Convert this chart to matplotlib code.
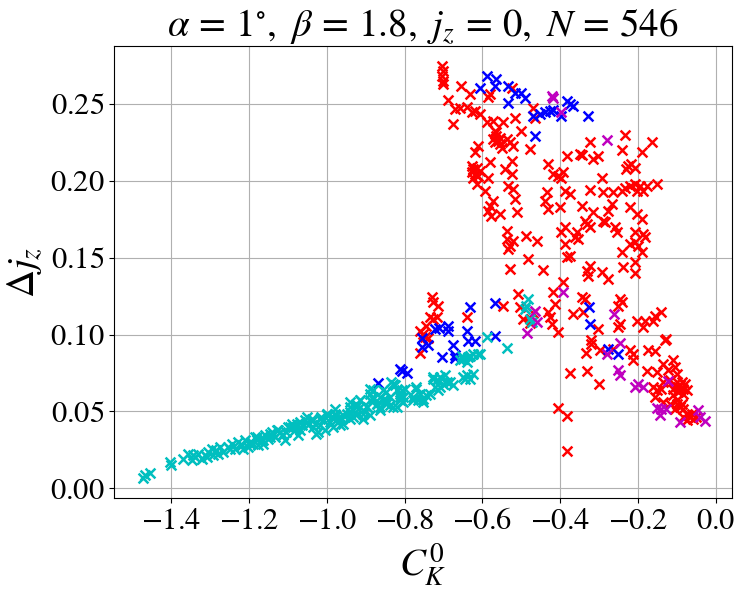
import numpy as np
import matplotlib
matplotlib.use("Agg")
import matplotlib.pyplot as plt
from matplotlib.ticker import FuncFormatter

plt.rcParams['mathtext.fontset'] = 'stix'
plt.rcParams['font.family'] = 'STIXGeneral'

# Points, grouped by colour
red_pts = [
    (-0.705, 0.2747), (-0.702, 0.2714), (-0.705, 0.2682), (-0.701, 0.2649), (-0.702, 0.2628),
    (-0.654, 0.2617), (-0.632, 0.2563), (-0.688, 0.2524), (-0.671, 0.2465), (-0.658, 0.2472),
    (-0.641, 0.2480), (-0.628, 0.2444), (-0.620, 0.2454), (-0.607, 0.2433), (-0.675, 0.2372),
    (-0.581, 0.2563), (-0.585, 0.2545), (-0.525, 0.2606), (-0.589, 0.2379), (-0.572, 0.2389),
    (-0.547, 0.2385), (-0.517, 0.2411), (-0.568, 0.2324), (-0.564, 0.2292), (-0.572, 0.2270),
    (-0.559, 0.2259), (-0.555, 0.2238), (-0.551, 0.2216), (-0.538, 0.2270), (-0.529, 0.2249),
    (-0.521, 0.2227), (-0.500, 0.2324), (-0.478, 0.2205), (-0.611, 0.2227), (-0.620, 0.2184),
    (-0.581, 0.2119), (-0.542, 0.2075), (-0.525, 0.2130), (-0.525, 0.2043), (-0.615, 0.2086),
    (-0.607, 0.2065), (-0.620, 0.2043), (-0.624, 0.2021), (-0.628, 0.2054), (-0.585, 0.2021),
    (-0.615, 0.1978), (-0.534, 0.1967), (-0.521, 0.1946), (-0.435, 0.1924), (-0.388, 0.1935),
    (-0.431, 0.2108), (-0.418, 0.2043), (-0.405, 0.2032), (-0.392, 0.2054), (-0.397, 0.2021),
    (-0.384, 0.2162), (-0.465, 0.2411), (-0.469, 0.2476), (-0.594, 0.1935), (-0.564, 0.2314),
    (-0.555, 0.2281), (-0.568, 0.2249), (-0.628, 0.2097), (-0.611, 0.2032), (-0.624, 0.2075),
    (-0.324, 0.2255), (-0.234, 0.2298), (-0.163, 0.2255), (-0.242, 0.2199), (-0.191, 0.2190),
    (-0.350, 0.2173), (-0.345, 0.2168), (-0.315, 0.2140), (-0.302, 0.2162), (-0.230, 0.2075),
    (-0.217, 0.2108), (-0.208, 0.2086), (-0.225, 0.2097), (-0.294, 0.2021), (-0.324, 0.1939),
    (-0.290, 0.1930), (-0.264, 0.1924), (-0.234, 0.1956), (-0.221, 0.1967), (-0.208, 0.1978),
    (-0.195, 0.1967), (-0.178, 0.1967), (-0.152, 0.1978), (-0.204, 0.1935), (-0.187, 0.1935),
    (-0.375, 0.1913), (-0.242, 0.1935),
    (-0.572, 0.1870), (-0.581, 0.1838), (-0.585, 0.1805), (-0.577, 0.1773), (-0.555, 0.1783),
    (-0.517, 0.1881), (-0.512, 0.1794), (-0.440, 0.1870), (-0.431, 0.1816), (-0.401, 0.1827),
    (-0.538, 0.1675), (-0.487, 0.1643), (-0.461, 0.1610), (-0.538, 0.1621), (-0.521, 0.1610),
    (-0.529, 0.1578), (-0.534, 0.1556), (-0.482, 0.1491), (-0.529, 0.1426), (-0.444, 0.1420),
    (-0.397, 0.1664), (-0.388, 0.1697), (-0.388, 0.1589), (-0.384, 0.1502), (-0.392, 0.1340),
    (-0.418, 0.1275), (-0.508, 0.1264), (-0.547, 0.1188), (-0.504, 0.1177), (-0.414, 0.1199),
    (-0.431, 0.1145), (-0.427, 0.1112), (-0.422, 0.1069), (-0.495, 0.1102), (-0.731, 0.1242),
    (-0.727, 0.1210), (-0.714, 0.1188), (-0.641, 0.1117), (-0.735, 0.1112), (-0.727, 0.1102),
    (-0.718, 0.1117), (-0.744, 0.1058), (-0.761, 0.1026), (-0.405, 0.1015),
    (-0.345, 0.1838), (-0.315, 0.1794), (-0.277, 0.1805), (-0.268, 0.1848), (-0.221, 0.1827),
    (-0.204, 0.1783), (-0.191, 0.1751), (-0.337, 0.1740), (-0.332, 0.1719), (-0.290, 0.1740),
    (-0.285, 0.1729), (-0.324, 0.1697), (-0.260, 0.1697), (-0.255, 0.1664), (-0.358, 0.1664),
    (-0.362, 0.1632), (-0.354, 0.1621), (-0.208, 0.1664), (-0.187, 0.1654), (-0.182, 0.1632),
    (-0.221, 0.1589), (-0.208, 0.1599), (-0.200, 0.1578), (-0.242, 0.1535), (-0.191, 0.1535),
    (-0.375, 0.1513), (-0.324, 0.1448), (-0.332, 0.1415), (-0.328, 0.1383), (-0.294, 0.1405),
    (-0.277, 0.1361), (-0.238, 0.1437), (-0.208, 0.1470), (-0.208, 0.1398), (-0.345, 0.1242),
    (-0.337, 0.1231), (-0.247, 0.1231), (-0.242, 0.1210), (-0.251, 0.1188), (-0.367, 0.1134),
    (-0.341, 0.1145), (-0.247, 0.1069), (-0.251, 0.1047), (-0.302, 0.1037), (-0.204, 0.1091),
    (-0.182, 0.1091), (-0.187, 0.1047), (-0.157, 0.1123), (-0.140, 0.1145), (-0.161, 0.1091),
    (-0.320, 0.0961), (-0.320, 0.0939), (-0.334, 0.0879), (-0.298, 0.0896), (-0.264, 0.0907),
    (-0.221, 0.0896), (-0.212, 0.0874), (-0.212, 0.0836), (-0.174, 0.0900), (-0.157, 0.0892),
    (-0.127, 0.0972), (-0.131, 0.0961), (-0.375, 0.0749), (-0.332, 0.0762), (-0.300, 0.0675),
    (-0.178, 0.0762), (-0.152, 0.0755), (-0.135, 0.0810), (-0.122, 0.0766), (-0.110, 0.0831),
    (-0.105, 0.0788), (-0.101, 0.0745), (-0.135, 0.0690), (-0.161, 0.0658), (-0.152, 0.0636),
    (-0.140, 0.0647), (-0.157, 0.0593), (-0.118, 0.0701), (-0.101, 0.0690), (-0.092, 0.0669),
    (-0.084, 0.0647), (-0.097, 0.0626), (-0.075, 0.0636), (-0.110, 0.0604), (-0.101, 0.0571),
    (-0.088, 0.0550), (-0.084, 0.0517), (-0.118, 0.0550), (-0.135, 0.0561), (-0.105, 0.0517),
    (-0.075, 0.0485), (-0.067, 0.0463), (-0.058, 0.0452), (-0.084, 0.0463), (-0.075, 0.0442),
    (-0.071, 0.0474), (-0.050, 0.0463), (-0.405, 0.0524), (-0.382, 0.0467), (-0.384, 0.0242),
    (-0.088, 0.0690), (-0.080, 0.0680), (-0.092, 0.0636), (-0.084, 0.0615), (-0.097, 0.0658),
    (-0.110, 0.0647), (-0.101, 0.0550), (-0.092, 0.0528), (-0.062, 0.0485),
    (-0.748, 0.0981), (-0.740, 0.0974), (-0.761, 0.0877), (-0.753, 0.1006), (-0.478, 0.1078),
    (-0.470, 0.1143),
]

blue_pts = [
    (-0.589, 0.2682), (-0.564, 0.2660), (-0.568, 0.2617), (-0.607, 0.2606), (-0.534, 0.2617),
    (-0.517, 0.2573), (-0.500, 0.2573), (-0.491, 0.2541), (-0.534, 0.2508), (-0.469, 0.2422),
    (-0.452, 0.2433), (-0.440, 0.2444), (-0.427, 0.2454), (-0.418, 0.2459), (-0.397, 0.2422),
    (-0.465, 0.2292), (-0.384, 0.2519), (-0.367, 0.2487), (-0.375, 0.2498), (-0.328, 0.2422),
    (-0.632, 0.1177), (-0.568, 0.1203), (-0.722, 0.1037), (-0.712, 0.1040), (-0.688, 0.1058),
    (-0.688, 0.1026), (-0.641, 0.1026), (-0.326, 0.1182), (-0.324, 0.1069), (-0.277, 0.0907),
    (-0.251, 0.0874), (-0.638, 0.0955), (-0.620, 0.0955), (-0.568, 0.0987), (-0.676, 0.0929),
    (-0.756, 0.0974), (-0.740, 0.0929), (-0.756, 0.0916), (-0.704, 0.0851), (-0.671, 0.0864),
    (-0.671, 0.0844), (-0.869, 0.0682), (-0.812, 0.0773), (-0.807, 0.0760), (-0.794, 0.0747),
]

cyan_pts = [
    (-0.482, 0.1231), (-0.487, 0.1188), (-0.491, 0.1166), (-0.478, 0.1102), (-0.474, 0.1080),
    (-0.589, 0.0981), (-0.537, 0.0909), (-0.653, 0.0857), (-0.632, 0.0857), (-0.612, 0.0870),
    (-0.770, 0.0647), (-0.761, 0.0615), (-0.765, 0.0571), (-0.744, 0.0604), (-0.778, 0.0593),
    (-0.752, 0.0561), (-0.727, 0.0712), (-0.718, 0.0701), (-0.710, 0.0723), (-0.722, 0.0658),
    (-0.714, 0.0636), (-0.701, 0.0680), (-0.684, 0.0691), (-0.675, 0.0669), (-0.650, 0.0723),
    (-0.641, 0.0734), (-0.624, 0.0745), (-0.632, 0.0712), (-0.645, 0.0712), (-0.650, 0.0842),
    (-0.637, 0.0853), (-0.624, 0.0875), (-0.607, 0.0875), (-0.658, 0.0831), (-0.641, 0.0820),
    (-1.009, 0.0442), (-1.001, 0.0474), (-0.992, 0.0431), (-0.980, 0.0485), (-0.975, 0.0452),
    (-0.967, 0.0463), (-0.958, 0.0420), (-0.949, 0.0485), (-0.941, 0.0452), (-0.932, 0.0507),
    (-0.924, 0.0550), (-0.924, 0.0474), (-0.915, 0.0571), (-0.907, 0.0507), (-0.898, 0.0528),
    (-0.890, 0.0647), (-0.890, 0.0571), (-0.881, 0.0636), (-0.881, 0.0593), (-0.872, 0.0550),
    (-0.864, 0.0528), (-0.864, 0.0593), (-0.855, 0.0571), (-0.847, 0.0550), (-0.847, 0.0626),
    (-0.838, 0.0593), (-0.834, 0.0691), (-0.825, 0.0669), (-0.821, 0.0636), (-0.812, 0.0615),
    (-0.812, 0.0571), (-0.804, 0.0593), (-0.800, 0.0647), (-0.829, 0.0528), (-0.907, 0.0452),
    (-0.890, 0.0474), (-0.967, 0.0409), (-0.984, 0.0398), (-1.018, 0.0409), (-1.005, 0.0377),
    (-0.915, 0.0528), (-0.941, 0.0528), (-0.932, 0.0463),
    (-1.468, 0.0084), (-1.455, 0.0099), (-1.472, 0.0069), (-1.402, 0.0149), (-1.404, 0.0171),
    (-1.371, 0.0192), (-1.356, 0.0225), (-1.348, 0.0182), (-1.339, 0.0203), (-1.331, 0.0225),
    (-1.322, 0.0192), (-1.314, 0.0214), (-1.305, 0.0236), (-1.296, 0.0257), (-1.292, 0.0214),
    (-1.284, 0.0246), (-1.275, 0.0268), (-1.266, 0.0236), (-1.254, 0.0268), (-1.245, 0.0290),
    (-1.236, 0.0257), (-1.228, 0.0301), (-1.219, 0.0279), (-1.211, 0.0311), (-1.202, 0.0268),
    (-1.194, 0.0301), (-1.185, 0.0333), (-1.176, 0.0279), (-1.168, 0.0311), (-1.159, 0.0344),
    (-1.151, 0.0322), (-1.142, 0.0366), (-1.134, 0.0333), (-1.125, 0.0376), (-1.116, 0.0344),
    (-1.108, 0.0311), (-1.099, 0.0398), (-1.091, 0.0420), (-1.082, 0.0376), (-1.074, 0.0344),
    (-1.065, 0.0409), (-1.056, 0.0441), (-1.048, 0.0409), (-1.039, 0.0452), (-1.031, 0.0420),
    (-1.022, 0.0366), (-1.014, 0.0463), (-1.001, 0.0485), (-1.344, 0.0214), (-1.309, 0.0203),
    (-1.279, 0.0225), (-1.249, 0.0257), (-1.215, 0.0257), (-1.198, 0.0290), (-1.181, 0.0311),
    (-1.164, 0.0290), (-1.147, 0.0333), (-1.121, 0.0366), (-1.104, 0.0366), (-1.087, 0.0398),
    (-1.069, 0.0430), (-1.052, 0.0463), (-1.035, 0.0398),
    (-1.189, 0.0290), (-1.181, 0.0333), (-1.164, 0.0312), (-1.147, 0.0355), (-1.129, 0.0377),
    (-1.112, 0.0344), (-1.095, 0.0398), (-1.078, 0.0420), (-1.069, 0.0377), (-1.052, 0.0431),
    (-1.035, 0.0442), (-1.027, 0.0355), (-1.018, 0.0452), (-1.001, 0.0485), (-0.988, 0.0463),
    (-0.980, 0.0517), (-0.967, 0.0442), (-0.958, 0.0474), (-0.941, 0.0496), (-0.941, 0.0561),
    (-0.924, 0.0528), (-0.915, 0.0571), (-0.907, 0.0485), (-0.898, 0.0528), (-0.890, 0.0615),
    (-0.881, 0.0582), (-0.872, 0.0550), (-0.864, 0.0506), (-0.855, 0.0636), (-0.847, 0.0571),
    (-0.838, 0.0539), (-0.830, 0.0680), (-0.821, 0.0528), (-0.812, 0.0593), (-0.808, 0.0636),
    (-0.804, 0.0561), (-0.770, 0.0658), (-0.761, 0.0615), (-0.752, 0.0582), (-0.778, 0.0571),
    (-0.735, 0.0615), (-0.727, 0.0723), (-0.718, 0.0701), (-0.710, 0.0658), (-0.697, 0.0734),
    (-0.692, 0.0690),
]

magenta_pts = [
    (-0.422, 0.2552), (-0.418, 0.2541), (-0.397, 0.2444), (-0.279, 0.2264), (-0.465, 0.1156),
    (-0.461, 0.1080), (-0.392, 0.1275), (-0.262, 0.1134), (-0.486, 0.1013),
    (-0.281, 0.0874), (-0.247, 0.0944), (-0.251, 0.0766), (-0.247, 0.0734), (-0.200, 0.0680),
    (-0.187, 0.0658), (-0.208, 0.0658), (-0.152, 0.0524), (-0.140, 0.0517), (-0.144, 0.0474),
    (-0.127, 0.0517), (-0.092, 0.0431), (-0.045, 0.0506), (-0.028, 0.0437), (-0.041, 0.0463),
    (-0.122, 0.0697),
]

groups = [(red_pts, 'r'), (blue_pts, 'b'), (cyan_pts, 'c'), (magenta_pts, 'm')]


def math_fmt(decimals):
    def f(v, pos):
        v = round(v, decimals)
        if v == 0:
            v = 0.0
        return '$' + f'{v:.{decimals}f}' + '$'
    return FuncFormatter(f)


fig = plt.figure(figsize=(7.46, 5.96), dpi=100)
ax = fig.add_subplot(111)
for pts, col in groups:
    arr = np.array(pts)
    ax.scatter(arr[:, 0], arr[:, 1], c=col, marker='x', s=50, linewidths=1.8, zorder=3)

ax.set_xlim(-1.547, 0.041)
ax.set_ylim(-0.0065, 0.2877)
ax.set_xticks(np.arange(-1.4, 0.01, 0.2))
ax.set_yticks(np.arange(0, 0.26, 0.05))
ax.xaxis.set_major_formatter(math_fmt(1))
ax.yaxis.set_major_formatter(math_fmt(2))
ax.tick_params(labelsize=22)
ax.grid(True)
ax.set_axisbelow(True)

ax.set_xlabel(r'$C_K^0$', fontsize=28)
ax.set_ylabel(r'$\Delta j_z$', fontsize=28)
ax.set_title(r'$\alpha\,=\,1^{\circ},\ \beta\,=\,1.8,\ j_z\,=\,0,\ N\,=\,546$', fontsize=28)

fig.subplots_adjust(left=0.153, right=0.981, top=0.923, bottom=0.164)
fig.savefig('out.png', dpi=100)
